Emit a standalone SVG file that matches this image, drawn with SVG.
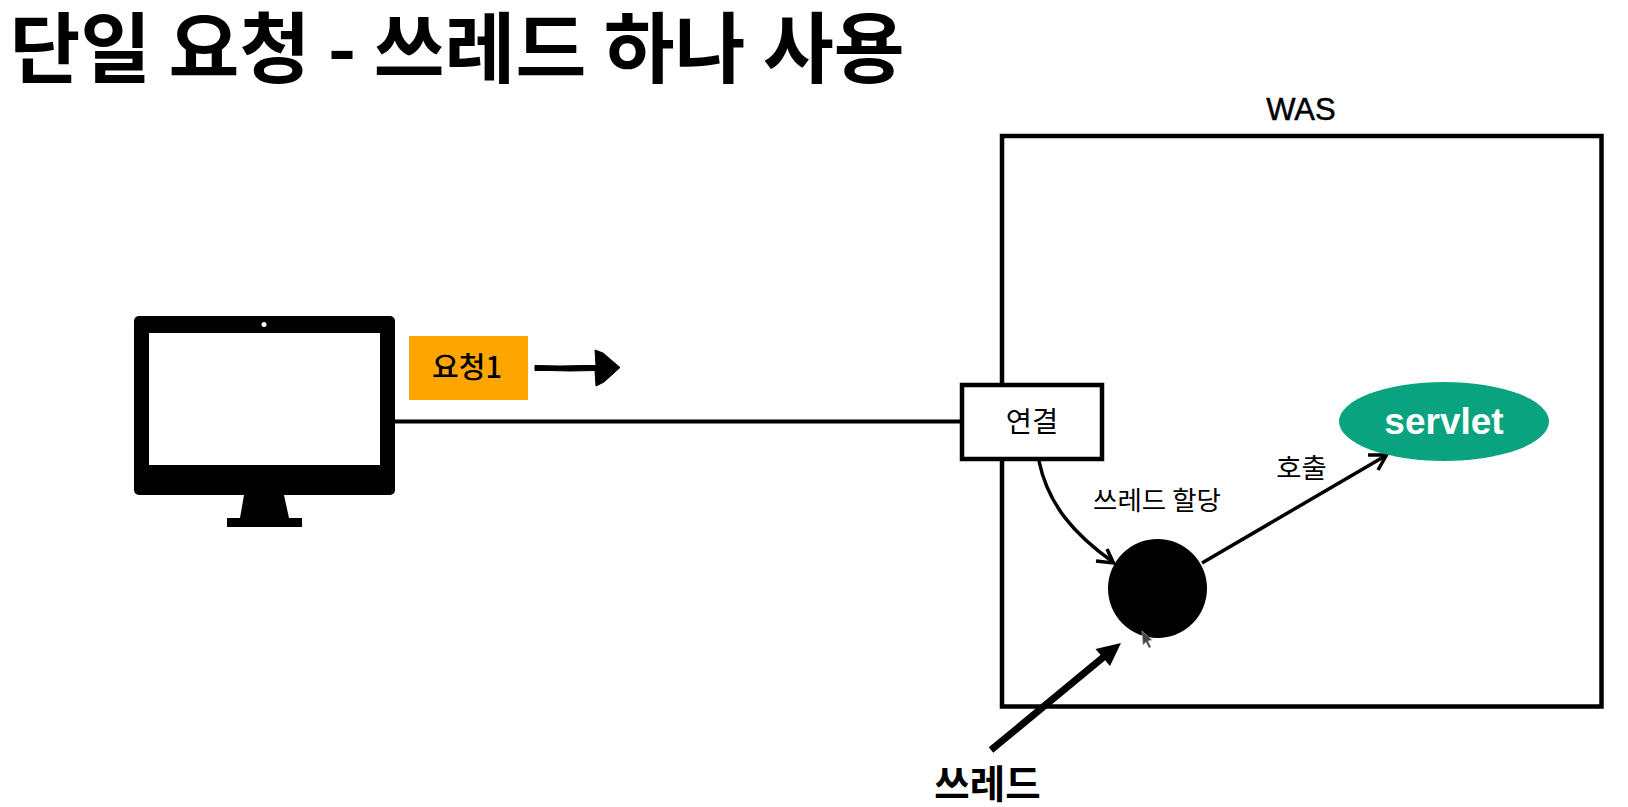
<svg xmlns="http://www.w3.org/2000/svg" width="1628" height="807" viewBox="0 0 1628 807">
<style>
text{font-family:"Noto Sans CJK KR","Noto Sans",sans-serif;fill:#000;text-anchor:middle}
.b{font-weight:700}
.m{font-weight:500}
.lat{font-family:"Liberation Sans",Arial,sans-serif}
.ln{fill:none;stroke:#000;stroke-width:3.5}
.box{fill:#fff;stroke:#000;stroke-width:4.5}
</style>
<rect width="1628" height="807" fill="#fff"/>
<g id="title"><text class="b" x="457" y="77" font-size="77">단일 요청 - 쓰레드 하나 사용</text></g>
<g id="was">
<rect x="1002" y="136" width="599.5" height="570.5" fill="#fff" stroke="#000" stroke-width="4.5"/>
<text class="lat" x="1301" y="120" font-size="31" stroke="#000" stroke-width=".5">WAS</text>
</g>
<g id="connectors">
<line x1="395" y1="421.5" x2="962" y2="421.5" stroke="#000" stroke-width="4"/>
<path class="ln" d="M1039 461C1048 505 1075 535 1113 562"/>
<path class="ln" d="M1096 561L1113.5 563L1107 549"/>
<path class="ln" d="M1202 563L1386 455.5"/>
<path class="ln" stroke-linejoin="miter" d="M1368 455L1386.5 455L1378 470"/>
<line x1="991" y1="750" x2="1106" y2="655" stroke="#000" stroke-width="7"/>
<polygon points="1121,643 1095.5,649 1110,666" fill="#000"/>
</g>
<g id="client">
<rect x="134" y="316" width="261" height="179" rx="5" fill="#000"/>
<rect x="149" y="333" width="231" height="132" fill="#fff"/>
<circle cx="264" cy="324.5" r="2.5" fill="#fff"/>
<polygon points="244,495 284,495 289,518 302,518 302,527 227,527 227,518 240,518" fill="#000"/>
</g>
<g id="request1">
<rect x="409" y="336" width="119" height="64" fill="#FFA500"/>
<text class="m" x="467" y="378" font-size="29">요청1</text>
</g>
<g id="request-arrow">
<path d="M535 365.500L560 366L585 365.500L596 365.500L595 350L603 353L620 367.500L604 382L596 386L595 370.500L570 371L550 370.500L535 370.500Z" fill="#000" stroke="#000" stroke-width="1"/>
</g>
<g id="connection">
<rect class="box" x="962" y="385" width="140" height="74"/>
<text x="1032" y="432" font-size="28.500">연결</text>
</g>
<g id="servlet">
<ellipse cx="1444" cy="421.5" rx="105" ry="39.500" fill="#0AA37F"/>
<text class="lat b" x="1444" y="434" font-size="37" style="fill:#fff">servlet</text>
</g>
<g id="thread-circle"><circle cx="1157.500" cy="588.500" r="49.500" fill="#000"/></g>
<g id="labels">
<text x="1157" y="510" font-size="26.500">쓰레드 할당</text>
<text x="1301.500" y="478" font-size="27.500">호출</text>
</g>
<g id="thread-label"><text class="b" x="987.500" y="798" font-size="38.500">쓰레드</text></g>
<path d="M1142 631L1143 645L1146 642L1149 648L1151 647L1148 641L1152 640Z" fill="#444" stroke="#bbb" stroke-width=".6"/>
</svg>
